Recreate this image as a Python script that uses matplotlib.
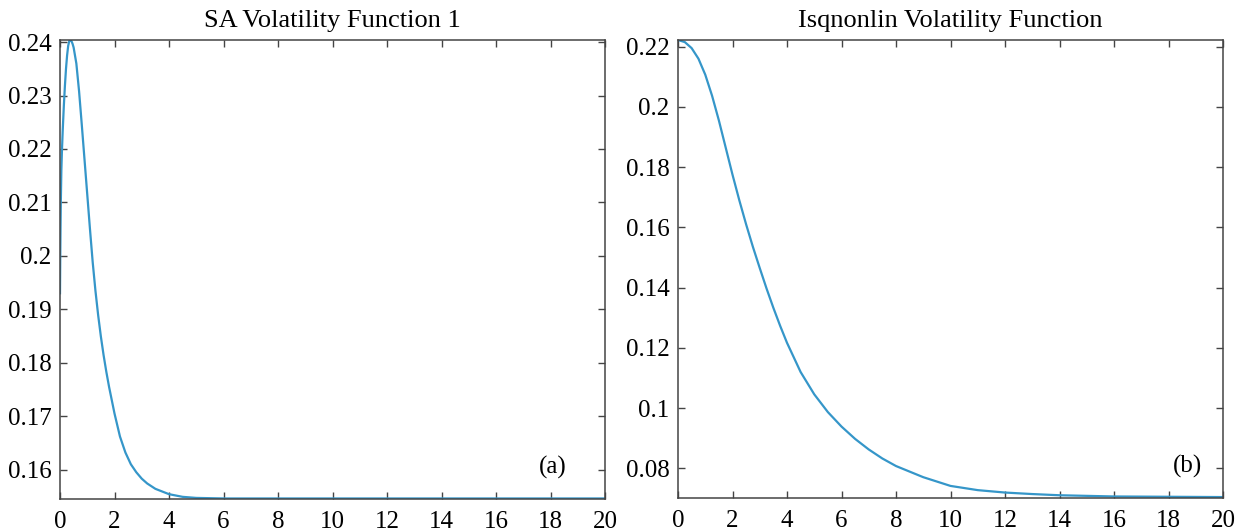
import numpy as np
import matplotlib.pyplot as plt
from matplotlib.ticker import FormatStrFormatter

# Panel (a): SA volatility function 1
t_a = [0, 0.01, 0.02, 0.03, 0.05, 0.07, 0.1, 0.14, 0.18, 0.22, 0.26, 0.3, 0.34,
       0.38, 0.42, 0.46, 0.5, 0.6, 0.7, 0.8, 0.9, 1.0, 1.1, 1.2, 1.3, 1.4, 1.5,
       1.6, 1.7, 1.8, 2.0, 2.2, 2.4, 2.6, 2.8, 3.0, 3.2, 3.5, 4.0, 4.5, 5.0, 6.0,
       8, 10, 12, 14, 16, 18, 20]
vol_a = [0.1930, 0.2000, 0.2055, 0.2100, 0.2160, 0.2195, 0.2235, 0.2280, 0.2318,
         0.2350, 0.2375, 0.2393, 0.2402, 0.2404, 0.2402, 0.2397, 0.2390, 0.2360,
         0.2308, 0.2245, 0.2180, 0.2115, 0.2050, 0.1988, 0.1935, 0.1889, 0.1849,
         0.1814, 0.1783, 0.1755, 0.1705, 0.1662, 0.1632, 0.1610, 0.1595, 0.1583,
         0.1574, 0.1564, 0.1554, 0.1549, 0.1547, 0.1546, 0.1546, 0.1546, 0.1546,
         0.1546, 0.1546, 0.1546, 0.1546]

# Panel (b): lsqnonlin volatility function
t_b = [0, 0.25, 0.5, 0.75, 1.0, 1.25, 1.5, 1.75, 2.0, 2.25, 2.5, 2.75, 3.0, 3.25,
       3.5, 3.75, 4.0, 4.5, 5.0, 5.5, 6.0, 6.5, 7.0, 7.5, 8.0, 9, 10, 11, 12, 13,
       14, 15, 16, 18, 20]
vol_b = [0.2222, 0.2215, 0.2195, 0.2160, 0.2107, 0.2037, 0.1955, 0.1865, 0.1775,
         0.1690, 0.1610, 0.1535, 0.1465, 0.1397, 0.1333, 0.1273, 0.1217, 0.1120,
         0.1046, 0.0987, 0.0939, 0.0898, 0.0863, 0.0833, 0.0808, 0.0771, 0.0742,
         0.0728, 0.0720, 0.0715, 0.0711, 0.0709, 0.0707, 0.0706, 0.0705]

titles = ['SA Volatility Function 1', 'Isqnonlin Volatility Function']
panel_tags = ['(a)', '(b)']
tag_x = [0.905, 0.934]
x_ticks = np.arange(0, 21, 2)
y_ticks_a = [0.16, 0.17, 0.18, 0.19, 0.20, 0.21, 0.22, 0.23, 0.24]
y_ticks_b = [0.08, 0.10, 0.12, 0.14, 0.16, 0.18, 0.20, 0.22]

LINE_COLOR = '#3596c9'
SPINE_COLOR = '#444444'

plt.rcParams['font.family'] = ['Liberation Serif', 'DejaVu Serif']

fig = plt.figure(figsize=(12.5, 5.31), dpi=100)
ax_a = fig.add_axes([0.048, 0.0603, 0.436, 0.8644])
ax_b = fig.add_axes([0.5424, 0.0622, 0.436, 0.8625])

panels = [
    (ax_a, t_a, vol_a, y_ticks_a, (0.1545, 0.2404)),
    (ax_b, t_b, vol_b, y_ticks_b, (0.0702, 0.2222)),
]

for i, (ax, t, vol, yt, ylim) in enumerate(panels):
    ax.plot(t, vol, color=LINE_COLOR, lw=1.6)
    ax.set_xlim(0, 20)
    ax.set_ylim(*ylim)
    ax.set_xticks(x_ticks)
    ax.set_yticks(yt)
    ax.yaxis.set_major_formatter(FormatStrFormatter('%g'))
    ax.tick_params(direction='in', top=True, right=True, length=5, width=1,
                   color=SPINE_COLOR, labelsize=18, pad=6)
    ax.tick_params(axis='x', pad=9)
    for s in ax.spines.values():
        s.set_color(SPINE_COLOR)
        s.set_linewidth(1.1)
    ax.set_title(titles[i], fontsize=19, pad=9)
    ax.text(tag_x[i], 0.068, panel_tags[i], transform=ax.transAxes, fontsize=18,
            ha='center', va='center')

fig.savefig('out.png', dpi=100)
